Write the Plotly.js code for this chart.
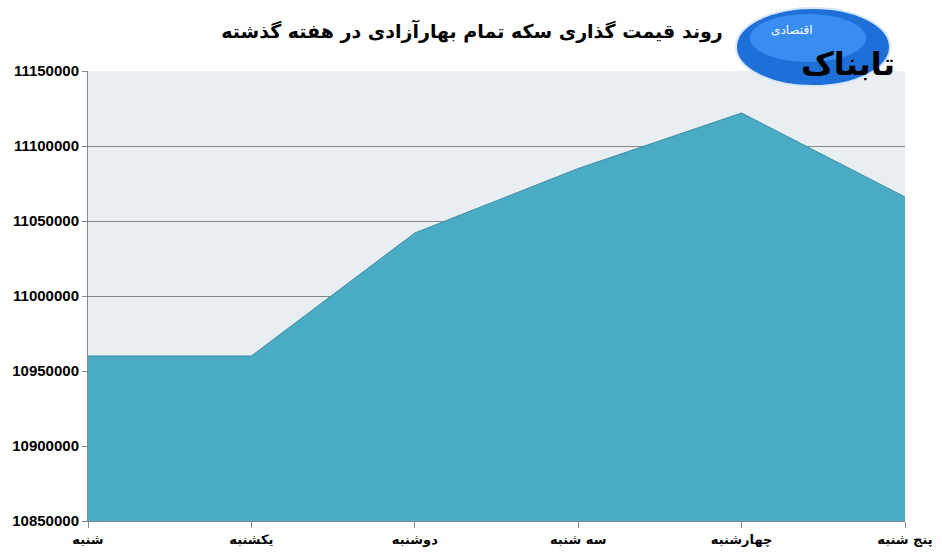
<!DOCTYPE html>
<html>
<head>
<meta charset="utf-8">
<script src="https://cdn.plot.ly/plotly-3.0.1.min.js"></script>
<style>html,body{margin:0;padding:0;background:#fff;}#chart{width:942px;height:558px;}</style>
</head>
<body>
<div id="chart"></div>
<script>
const days = ["شنبه", "یکشنبه", "دوشنبه", "سه شنبه", "چهارشنبه", "پنج شنبه"];
const prices = [10960000, 10960000, 11042000, 11085000, 11122000, 11066000];
const yTicks = [10850000, 10900000, 10950000, 11000000, 11050000, 11100000, 11150000];
const titleText = "روند قیمت گذاری سکه تمام بهارآزادی در هفته گذشته";
const logoMain = "تابناک";
const logoSub = "اقتصادی";

const W = 942, H = 558, L = 88, R = 37, T = 71, B = 37;
const pw = W - L - R, ph = H - T - B;
const px = x => (x - L) / pw;
const py = y => (H - B - y) / ph;

const trace = {
  x: days.map((d, i) => i),
  y: prices,
  type: 'scatter',
  mode: 'lines',
  fill: 'tozeroy',
  fillcolor: '#4AABC5',
  line: {color: '#3C8DA6', width: 1},
  hoverinfo: 'x+y'
};

const layout = {
  width: W, height: H,
  margin: {l: L, r: R, t: T, b: B},
  paper_bgcolor: '#ffffff',
  plot_bgcolor: '#E8EEF2',
  showlegend: false,
  title: {
    text: '<b>' + titleText + '</b>',
    font: {family: 'DejaVu Sans', size: 19, color: '#000'},
    x: px(472), xref: 'paper', xanchor: 'center',
    y: 1 - 31 / H, yanchor: 'middle'
  },
  xaxis: {
    range: [0, 5],
    tickvals: days.map((d, i) => i),
    ticktext: days.map(d => '<b>' + d + '</b>'),
    tickfont: {family: 'DejaVu Sans', size: 13, color: '#000'},
    showgrid: false,
    zeroline: false,
    showline: true, linecolor: '#868686', linewidth: 1,
    ticks: 'outside', ticklen: 6, tickcolor: '#868686',
    fixedrange: true
  },
  yaxis: {
    range: [10850000, 11150000],
    tickvals: yTicks,
    ticktext: yTicks.map(v => '<b>' + v + '</b>'),
    tickfont: {family: 'Liberation Sans', size: 15, color: '#000'},
    showgrid: true, gridcolor: '#868686', gridwidth: 1,
    zeroline: false,
    showline: true, linecolor: '#868686', linewidth: 1,
    ticks: 'outside', ticklen: 5, tickcolor: '#868686',
    fixedrange: true
  },
  shapes: [
    {type: 'circle', xref: 'paper', yref: 'paper', layer: 'above',
     x0: px(736), x1: px(890), y0: py(86), y1: py(8),
     fillcolor: '#1F6FD8', line: {color: '#D6E6FA', width: 2}},
    {type: 'circle', xref: 'paper', yref: 'paper', layer: 'above',
     x0: px(750), x1: px(866), y0: py(62), y1: py(14),
     fillcolor: '#3A8DF0', line: {width: 0}}
  ],
  annotations: [
    {text: '<b>' + logoMain + '</b>', xref: 'paper', yref: 'paper',
     x: px(848), y: py(64), xanchor: 'center', yanchor: 'middle', showarrow: false,
     font: {family: 'DejaVu Sans', size: 32, color: '#000'}},
    {text: logoSub, xref: 'paper', yref: 'paper',
     x: px(792), y: py(30), xanchor: 'center', yanchor: 'middle', showarrow: false,
     font: {family: 'DejaVu Sans', size: 12, color: '#fff'}}
  ]
};

Plotly.newPlot('chart', [trace], layout, {displayModeBar: false, staticPlot: true});
</script>
</body>
</html>
